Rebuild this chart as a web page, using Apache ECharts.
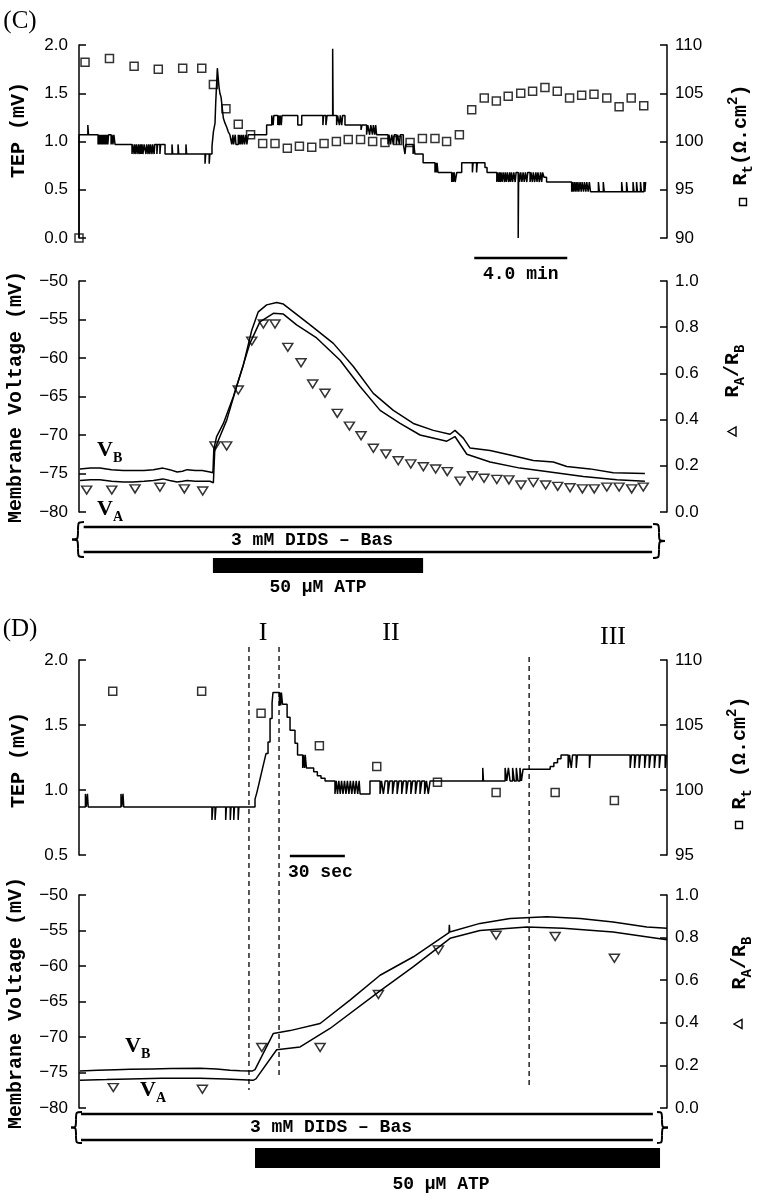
<!DOCTYPE html>
<html><head><meta charset="utf-8">
<script src="https://cdn.jsdelivr.net/npm/echarts/dist/echarts.min.js"></script>
<style>html,body{margin:0;padding:0;background:#fff}#c{width:761px;height:1199px}</style>
</head><body><div id="c"></div>
<script>
// ---------- Panel C (time in minutes) ----------
const cTimeMax = 25.29;
const cTEP = [
[0,0],[0,1.07],[0.38,1.17],[0.41,1.07],
[0.82,0.97],[0.85,1.07],[0.88,0.97],[0.91,1.07],[0.94,0.97],[0.97,1.07],[1.00,0.97],[1.03,1.07],[1.06,0.97],[1.09,1.07],[1.12,0.97],[1.15,1.07],[1.18,0.97],[1.21,1.07],[1.24,0.97],[1.27,1.07],[1.38,0.97],[1.42,1.07],[1.46,0.97],[1.50,1.07],[1.55,0.97],
[2.28,0.87],[2.31,0.97],[2.37,0.87],[2.40,0.97],[2.45,0.87],[2.48,0.97],[2.54,0.87],[2.57,0.97],[2.62,0.87],[2.65,0.97],[2.68,0.87],[2.71,0.97],[2.75,0.87],[2.80,0.97],[2.88,0.87],[2.91,0.97],[2.97,0.87],[3.00,0.97],[3.05,0.87],[3.08,0.97],[3.14,0.87],[3.17,0.97],[3.23,0.87],[3.26,0.97],[3.35,0.87],[3.38,0.97],[3.48,0.87],[3.51,0.97],[3.70,0.87],
[4.00,0.97],[4.03,0.87],[4.26,0.97],[4.29,0.87],[4.60,0.97],[4.63,0.87],
[5.42,0.77],[5.45,0.87],[5.60,0.77],[5.63,0.87],
[5.72,0.95],[5.78,1.10],[5.85,1.19],[5.88,1.40],[5.92,1.60],[5.95,1.76],[5.99,1.65],[6.02,1.57],[6.06,1.50],[6.11,1.46],[6.16,1.35],[6.21,1.24],[6.28,1.19],[6.35,1.15],[6.42,1.10],[6.49,1.07],[6.57,0.97],
[6.62,1.07],[6.65,0.97],[6.72,1.07],[6.75,0.97],[6.85,1.07],[6.88,0.97],[6.92,1.07],[6.95,0.97],[7.00,1.07],[7.03,0.97],[7.08,1.07],[7.12,0.97],[7.18,1.07],[7.22,0.97],[7.28,1.07],
[8.07,1.17],[8.29,1.27],[8.35,1.17],[8.38,1.27],[8.55,1.17],[8.58,1.27],[8.62,1.17],[8.65,1.27],[8.70,1.17],[8.73,1.27],
[9.41,1.17],[9.58,1.27],[10.49,1.17],[10.52,1.27],[10.62,1.17],[10.67,1.27],[10.91,1.96],[10.93,1.27],
[11.08,1.17],[11.12,1.27],[11.20,1.17],[11.24,1.27],[11.30,1.17],[11.34,1.27],[11.44,1.17],
[12.13,1.12],[12.17,1.17],[12.37,1.07],[12.42,1.17],[12.50,1.07],[12.55,1.17],[12.62,1.07],[12.66,1.17],[12.72,1.07],[12.76,1.17],[12.80,1.07],
[13.29,0.97],[13.33,1.07],[13.40,0.97],[13.45,1.07],[13.52,0.97],[13.56,1.07],[13.65,0.97],[13.70,1.07],[13.78,0.97],[13.82,1.07],[13.95,0.97],
[14.02,0.87],[14.06,0.97],[14.37,0.87],[14.40,0.97],[14.45,0.87],[14.80,0.78],
[15.31,0.68],[15.34,0.78],[15.37,0.68],[15.40,0.78],[15.44,0.68],
[16.03,0.58],[16.07,0.68],[16.10,0.58],[16.14,0.68],[16.18,0.58],[16.25,0.68],[16.46,0.78],
[16.92,0.68],[16.95,0.78],[17.10,0.68],[17.13,0.78],[17.46,0.73],[17.55,0.68],
[17.97,0.58],[18.00,0.68],[18.05,0.58],[18.08,0.68],[18.12,0.58],[18.15,0.68],[18.20,0.58],[18.24,0.68],[18.30,0.58],[18.33,0.68],[18.38,0.58],[18.42,0.68],[18.48,0.58],[18.52,0.68],[18.56,0.58],[18.60,0.68],[18.65,0.58],[18.70,0.68],[18.76,0.58],[18.80,0.68],[18.89,0.00],[18.91,0.68],[18.95,0.58],[19.00,0.68],[19.05,0.58],[19.10,0.68],[19.15,0.58],[19.20,0.68],[19.26,0.58],[19.30,0.68],[19.40,0.58],[19.44,0.68],[19.50,0.58],[19.54,0.68],[19.60,0.58],[19.65,0.68],[19.70,0.58],[19.74,0.68],[19.80,0.58],[19.85,0.68],[19.90,0.58],[19.94,0.68],[20.00,0.63],[20.11,0.58],
[21.19,0.48],[21.22,0.58],[21.26,0.48],[21.30,0.58],[21.34,0.48],[21.38,0.58],[21.42,0.48],[21.46,0.58],[21.50,0.48],[21.55,0.58],[21.60,0.48],[21.64,0.58],[21.70,0.48],[21.74,0.58],[21.80,0.48],[21.84,0.58],[21.90,0.48],[21.95,0.58],[22.00,0.48],
[22.34,0.58],[22.38,0.48],[22.55,0.58],[22.59,0.48],[23.34,0.58],[23.38,0.48],[23.55,0.58],[23.59,0.48],[23.83,0.58],[23.87,0.48],[23.98,0.58],[24.02,0.48],[24.15,0.58],[24.19,0.48],[24.30,0.58],[24.34,0.48],[24.37,0.58],[24.39,0.58]
];
const cRt = [[0,90],[0.26,108.2],[1.31,108.6],[2.37,107.8],[3.41,107.5],[4.46,107.6],[5.28,107.6],[5.78,105.9],[6.32,103.4],[6.85,101.8],[7.38,100.7],[7.90,99.8],[8.43,99.8],[8.96,99.3],[9.48,99.5],[10.01,99.4],[10.54,99.8],[11.07,100.0],[11.58,100.2],[12.11,100.2],[12.63,100.0],[13.16,99.9],[13.70,100.1],[14.24,99.9],[14.77,100.3],[15.31,100.3],[15.81,100.0],[16.36,100.7],[16.89,103.3],[17.43,104.5],[17.95,104.2],[18.46,104.7],[19.00,105.0],[19.51,105.2],[20.04,105.6],[20.57,105.2],[21.10,104.5],[21.62,104.8],[22.15,104.9],[22.70,104.5],[23.23,103.6],[23.75,104.5],[24.29,103.7]];
const cVB = [[0.04,-74.4],[0.5,-74.3],[0.9,-74.3],[1.4,-74.5],[1.9,-74.6],[2.32,-74.6],[2.8,-74.6],[3.2,-74.5],[3.61,-74.3],[3.9,-74.5],[4.22,-74.8],[4.45,-74.7],[4.65,-74.5],[5.0,-74.6],[5.3,-74.6],[5.63,-74.8],[5.76,-74.9],[5.80,-71.8],[5.92,-70.2],[6.21,-68.5],[6.64,-65.0],[7.07,-60.9],[7.43,-56.4],[7.71,-54.0],[8.07,-53.1],[8.50,-52.8],[8.79,-53.0],[9.22,-54.0],[9.94,-55.7],[10.94,-58.1],[11.80,-61.1],[12.66,-64.6],[13.52,-66.8],[14.38,-68.5],[15.24,-69.4],[15.96,-69.9],[16.17,-69.4],[16.53,-70.4],[16.82,-71.7],[17.68,-72.0],[18.54,-72.6],[19.54,-73.3],[20.40,-73.5],[20.98,-74.1],[21.98,-74.4],[22.98,-74.9],[24.34,-75.0]];
const cVA = [[0.04,-75.9],[0.5,-75.8],[0.9,-75.8],[1.4,-76.0],[1.9,-76.1],[2.32,-76.1],[2.8,-76.0],[3.2,-75.9],[3.61,-75.7],[3.9,-75.9],[4.22,-76.1],[4.45,-76.0],[4.65,-75.9],[5.0,-76.0],[5.3,-76.0],[5.63,-76.0],[5.78,-76.2],[5.84,-71.9],[5.95,-71.0],[6.35,-68.1],[6.78,-63.7],[7.35,-58.1],[7.78,-55.3],[8.36,-54.2],[8.79,-54.3],[9.36,-55.7],[10.22,-57.4],[11.23,-60.3],[12.09,-63.7],[12.95,-66.8],[13.81,-68.5],[14.67,-70.0],[15.82,-70.8],[16.17,-70.2],[16.68,-72.5],[17.68,-73.5],[18.97,-74.3],[20.26,-74.8],[21.69,-75.4],[23.13,-75.8],[24.34,-76.0]];
const cRatio = [[0.33,0.095],[1.41,0.095],[2.41,0.10],[3.48,0.107],[4.53,0.10],[5.32,0.091],[5.85,0.286],[6.35,0.286],[6.85,0.528],[7.43,0.74],[7.93,0.814],[8.43,0.814],[8.98,0.713],[9.55,0.646],[10.05,0.554],[10.58,0.514],[11.11,0.427],[11.63,0.372],[12.13,0.33],[12.66,0.276],[13.2,0.251],[13.73,0.222],[14.27,0.208],[14.81,0.196],[15.34,0.186],[15.84,0.175],[16.39,0.134],[16.92,0.157],[17.42,0.146],[17.97,0.141],[18.49,0.139],[19.01,0.117],[19.54,0.128],[20.07,0.117],[20.59,0.111],[21.12,0.105],[21.65,0.10],[22.16,0.10],[22.7,0.108],[23.23,0.108],[23.77,0.10],[24.27,0.108]];
const cDIDS = [0.2, 24.65];
const cATP = [5.76, 14.8];
const cScaleBar = [17, 21];

// ---------- Panel D (time in seconds) ----------
const dTimeMax = 320.7;
const dTEP = [
[0,0.87],[3.5,0.97],[3.9,0.87],[4.6,0.97],[5.0,0.87],[22.9,0.97],[23.3,0.87],[24.0,0.97],[24.4,0.87],
[72.5,0.77],[73.0,0.87],[74.2,0.77],[74.7,0.87],[80.0,0.77],[80.4,0.87],[82.5,0.77],[82.9,0.87],[84.4,0.77],[84.8,0.87],[86.8,0.77],[87.2,0.87],
[94.9,0.87],[96,0.93],[97,0.98],[98,1.04],[99,1.10],[100,1.16],[101,1.22],[102,1.28],[103.1,1.37],[104.2,1.55],[105.3,1.67],[105.8,1.75],
[109.3,1.65],[109.6,1.75],[110.0,1.65],[110.4,1.75],[111.0,1.66],[113.5,1.56],[115.1,1.46],[117.8,1.36],[119.2,1.27],
[122,1.17],[122.4,1.27],[123,1.17],[123.4,1.27],[124,1.17],[128,1.14],[130,1.11],[132,1.09],[134.2,1.07],
[139.6,0.97],[140.3,1.07],[141,0.97],[141.7,1.07],[142.5,0.97],[143.2,1.07],[144,0.97],[144.8,1.07],[145.6,0.97],[146.4,1.07],[147.2,0.97],[148,1.07],[148.8,0.97],[149.6,1.07],[150.4,0.97],[151.2,1.07],[152,0.97],[152.8,1.07],[153.3,0.97],[158.7,1.07],
[164.2,0.97],[165,1.07],[166,0.97],[167,1.07],[168.5,0.97],[169.5,1.07],[171,0.97],[172,1.07],[173.5,0.97],[174.5,1.07],[176,0.97],[177,1.07],[178.5,0.97],[179.5,1.07],[181,0.97],[182,1.07],[183.5,0.97],[184.5,1.07],[186,0.97],[187,1.07],[188.5,0.97],[189.5,1.07],[190.5,0.97],[191.5,1.07],
[220.2,1.17],[220.6,1.07],
[232.4,1.17],[233.3,1.07],[234.2,1.17],[235.1,1.07],[236.5,1.17],[237.4,1.07],[238.5,1.17],[239.4,1.07],[240.5,1.17],[241.3,1.07],[242.2,1.16],
[255.3,1.16],[257,1.18],[259,1.21],[261,1.24],[262.9,1.27],
[266.8,1.17],[267.5,1.27],[268.5,1.17],[269.2,1.27],[271.2,1.17],[271.8,1.27],[278.4,1.17],[278.9,1.27],
[300.6,1.17],[301.3,1.27],[303,1.17],[303.7,1.27],[305.5,1.17],[306.2,1.27],[308.5,1.17],[309.2,1.27],[311,1.17],[311.8,1.27],[313.8,1.17],[314.5,1.27],[316.5,1.17],[317.2,1.27],[319.7,1.17],[320.5,1.27],[320.7,1.27]
];
const dRt = [[18.4,107.6],[66.9,107.6],[99.3,105.9],[131.1,103.4],[162.4,101.8],[195.5,100.6],[227.5,99.8],[259.7,99.8],[292.0,99.2]];
const dVB = [[0.5,-74.8],[10,-74.7],[20,-74.6],[27.8,-74.55],[40,-74.5],[50,-74.45],[66,-74.4],[75,-74.5],[82.4,-74.7],[88,-74.75],[94.4,-74.8],[96,-74.6],[106,-69.5],[115.1,-69.1],[131.5,-68.1],[147.8,-64.8],[164.2,-61.3],[182.4,-58.7],[201.8,-55.3],[202.0,-54.2],[202.2,-55.2],[218.7,-54.0],[235.1,-53.3],[255.1,-53.05],[273.3,-53.3],[291.3,-53.8],[309.7,-54.5],[320.7,-54.7]];
const dVA = [[0.5,-76.1],[15,-76.0],[27.8,-75.9],[45,-75.8],[66,-75.8],[80,-75.9],[94.9,-76.1],[96.5,-75.9],[107.8,-71.8],[120.6,-71.4],[136.9,-68.8],[164.2,-63.5],[182.4,-60.1],[202.4,-56.1],[218.7,-55.0],[244.2,-54.5],[264.2,-54.7],[291.3,-55.2],[320.7,-56.3]];
const dRatio = [[18.7,0.096],[67.3,0.088],[99.7,0.284],[131.5,0.284],[163.3,0.533],[196.0,0.742],[227.5,0.811],[259.7,0.805],[292.0,0.703]];
const dDIDS = [1.1, 313];
const dATP = [96, 316.9];
const dScaleBar = [115, 145];
const dPhaseLines = [92.7, 109.1, 245.5];
const dPhaseLabels = ['I', 'II', 'III'];

// ---------- chart ----------
const MONO = '"Liberation Mono","DejaVu Sans Mono",monospace';
const SERIF = '"Liberation Serif","DejaVu Serif",serif';
const chart = echarts.init(document.getElementById('c'), null, {renderer: 'canvas'});

function yAx(grid, pos, min, max, interval, fmt) {
  return {type: 'value', gridIndex: grid, position: pos, min: min, max: max, interval: interval,
    axisLine: {show: true, onZero: false, lineStyle: {color: '#000', width: 1.5}},
    axisTick: {show: true, inside: true, length: 7, lineStyle: {color: '#000', width: 1.5}},
    splitLine: {show: false},
    axisLabel: {color: '#000', fontFamily: '"Liberation Sans",Arial,sans-serif', fontSize: 17,
      margin: pos === 'left' ? 11 : 8, formatter: fmt}};
}
const f1 = v => v.toFixed(1);
const fInt = v => String(Math.round(v));
const fNeg = v => String(Math.round(v)).replace('-', '\u2212');

const lineS = (xi, yi, data, extra) => Object.assign({type: 'line', xAxisIndex: xi, yAxisIndex: yi, data: data,
  showSymbol: false, symbol: 'none', lineStyle: {color: '#000', width: 1.5}, animation: false, z: 3}, extra || {});
const sqS = (xi, yi, data) => ({type: 'scatter', xAxisIndex: xi, yAxisIndex: yi, data: data, symbol: 'rect', symbolSize: 8,
  itemStyle: {color: 'rgba(0,0,0,0)', borderColor: '#000', borderWidth: 1.5}, animation: false, z: 4});
const triS = (xi, yi, data) => ({type: 'scatter', xAxisIndex: xi, yAxisIndex: yi, data: data, symbol: 'triangle', symbolRotate: 180,
  symbolSize: [10, 8], itemStyle: {color: 'rgba(0,0,0,0)', borderColor: '#000', borderWidth: 1.5}, animation: false, z: 4});

chart.setOption({
  backgroundColor: '#fff',
  animation: false,
  grid: [
    {left: 79, width: 588, top: 45, height: 193, outerBoundsMode: 'none'},
    {left: 79, width: 588, top: 281, height: 231, outerBoundsMode: 'none'},
    {left: 79, width: 588, top: 660, height: 195, outerBoundsMode: 'none'},
    {left: 79, width: 588, top: 895, height: 213, outerBoundsMode: 'none'}
  ],
  xAxis: [
    {type: 'value', gridIndex: 0, min: 0, max: cTimeMax, show: false},
    {type: 'value', gridIndex: 1, min: 0, max: cTimeMax, show: false},
    {type: 'value', gridIndex: 2, min: 0, max: dTimeMax, show: false},
    {type: 'value', gridIndex: 3, min: 0, max: dTimeMax, show: false}
  ],
  yAxis: [
    yAx(0, 'left', 0, 2, 0.5, f1),
    yAx(0, 'right', 90, 110, 5, fInt),
    yAx(1, 'left', -80, -50, 5, fNeg),
    yAx(1, 'right', 0, 1, 0.2, f1),
    yAx(2, 'left', 0.5, 2, 0.5, f1),
    yAx(2, 'right', 95, 110, 5, fInt),
    yAx(3, 'left', -80, -50, 5, fNeg),
    yAx(3, 'right', 0, 1, 0.2, f1)
  ],
  series: [
    lineS(0, 0, cTEP, {step: 'end'}),
    sqS(0, 1, cRt),
    lineS(1, 2, cVB),
    lineS(1, 2, cVA),
    triS(1, 3, cRatio),
    lineS(2, 4, dTEP, {step: 'end'}),
    sqS(2, 5, dRt),
    lineS(3, 6, dVB),
    lineS(3, 6, dVA),
    triS(3, 7, dRatio)
  ]
});

// ---------- annotations ----------
const px = (ai, t) => chart.convertToPixel({xAxisIndex: ai}, t);
const G = [];
function T(x, y, text, font, align, rot) {
  G.push({type: 'text', x: x, y: y, rotation: rot || 0, silent: true, z: 10,
    style: {text: text, font: font, fill: '#000', align: align || 'center', verticalAlign: 'middle',
      textAlign: align || 'center', textVerticalAlign: 'middle'}});
}
function R(x, y, text, rich, align, rot) {
  G.push({type: 'text', x: x, y: y, rotation: rot || 0, silent: true, z: 10,
    style: {text: text, rich: rich, fill: '#000', align: align || 'center', verticalAlign: 'middle',
      textAlign: align || 'center', textVerticalAlign: 'middle'}});
}
function L(x1, y1, x2, y2, w, dash) {
  G.push({type: 'line', silent: true, z: 10, shape: {x1: x1, y1: y1, x2: x2, y2: y2},
    style: {stroke: '#000', lineWidth: w, lineDash: dash || null}});
}
function Box(x, y, w, h) {
  G.push({type: 'rect', silent: true, z: 10, shape: {x: x, y: y, width: w, height: h}, style: {fill: '#000'}});
}
function Bz(x1, y1, c1x, c1y, c2x, c2y, x2, y2) {
  G.push({type: 'bezierCurve', silent: true, z: 10,
    shape: {x1: x1, y1: y1, cpx1: c1x, cpy1: c1y, cpx2: c2x, cpy2: c2y, x2: x2, y2: y2},
    style: {stroke: '#000', lineWidth: 2, fill: null}});
}
function brace(tipX, spineX, pointX, y0, y1) {
  const m = (y0 + y1) / 2, q = (y1 - y0) / 4;
  Bz(tipX, y0, spineX, y0, spineX, y0, spineX, y0 + q);
  Bz(spineX, y0 + q, spineX, m, spineX, m, pointX, m);
  Bz(pointX, m, spineX, m, spineX, m, spineX, m + q);
  Bz(spineX, m + q, spineX, y1, spineX, y1, tipX, y1);
}
const richSub = {
  n: {fontSize: 20, fontFamily: MONO, fontWeight: 'bold', fill: '#000'},
  s: {fontSize: 14, fontFamily: MONO, fontWeight: 'bold', fill: '#000', padding: [14, 0, 0, 0]},
  p: {fontSize: 14, fontFamily: MONO, fontWeight: 'bold', fill: '#000', padding: [0, 0, 16, 0]}
};
const richV = {
  n: {fontSize: 22, fontFamily: SERIF, fontWeight: 'bold', fill: '#000'},
  s: {fontSize: 14, fontFamily: SERIF, fontWeight: 'bold', fill: '#000', padding: [16, 0, 0, 0]}
};
const ROT = Math.PI / 2;
const TITLE = 'bold 20px ' + MONO;
const NOTE = 'bold 18px ' + MONO;

// panel labels
T(20, 21, '(C)', '25px ' + SERIF);
T(20, 629, '(D)', '25px ' + SERIF);

// left titles
T(19, 130, 'TEP (mV)', TITLE, 'center', ROT);
T(16, 397, 'Membrane Voltage (mV)', TITLE, 'center', ROT);
T(19, 760, 'TEP (mV)', TITLE, 'center', ROT);
T(16, 1003, 'Membrane Voltage (mV)', TITLE, 'center', ROT);

// right titles + legend symbols
R(741, 135, '{n|R}{s|t}{n|(Ω.cm}{p|2}{n|)}', richSub, 'center', ROT);
G.push({type: 'rect', silent: true, z: 10, shape: {x: 739.5, y: 198.5, width: 7, height: 7}, style: {fill: 'none', stroke: '#000', lineWidth: 1.4}});
R(733, 371, '{n|R}{s|A}{n|/R}{s|B}', richSub, 'center', ROT);
G.push({type: 'polygon', silent: true, z: 10, shape: {points: [[728, 431.5], [736, 427], [736, 436]]}, style: {fill: 'none', stroke: '#000', lineWidth: 1.4}});
R(740, 753, '{n|R}{s|t}{n| (Ω.cm}{p|2}{n|)}', richSub, 'center', ROT);
G.push({type: 'rect', silent: true, z: 10, shape: {x: 735.5, y: 821.5, width: 7, height: 7}, style: {fill: 'none', stroke: '#000', lineWidth: 1.4}});
R(740, 963, '{n|R}{s|A}{n|/R}{s|B}', richSub, 'center', ROT);
G.push({type: 'polygon', silent: true, z: 10, shape: {points: [[734, 1024], [742, 1019.5], [742, 1028.5]]}, style: {fill: 'none', stroke: '#000', lineWidth: 1.4}});

// C: scale bar
{
  const a = px(0, cScaleBar[0]), b = px(0, cScaleBar[1]);
  L(a, 258, b, 258, 2.5);
  T((a + b) / 2, 274, '4.0 min', NOTE);
}
// C: DIDS box, braces, ATP bar
{
  const a = px(1, cDIDS[0]), b = px(1, cDIDS[1]);
  L(a, 527, b, 527, 2.5); L(a, 552, b, 552, 2.5);
  brace(84, 78, 72, 522, 557);
  brace(653, 659, 665, 524, 558);
  T(312, 540, '3 mM DIDS \u2013 Bas', NOTE);
  const s = px(1, cATP[0]), e = px(1, cATP[1]);
  Box(s, 558, e - s, 15);
  T((s + e) / 2, 587, '50 \u03bcM ATP', NOTE);
}
// C: V labels
R(97, 450, '{n|V}{s|B}', richV, 'left');
R(97, 509, '{n|V}{s|A}', richV, 'left');

// D: phase lines + labels
{
  const xs = dPhaseLines.map(t => px(3, t));
  L(xs[0], 647, xs[0], 1090, 1.3, [5, 4]);
  L(xs[1], 647, xs[1], 1078, 1.3, [5, 4]);
  L(xs[2], 657, xs[2], 1088, 1.3, [5, 4]);
  T(263, 633, dPhaseLabels[0], '26px ' + SERIF);
  T(391, 633, dPhaseLabels[1], '26px ' + SERIF);
  T(613, 637, dPhaseLabels[2], '26px ' + SERIF);
}
// D: scale bar
{
  const a = px(2, dScaleBar[0]), b = px(2, dScaleBar[1]);
  L(a, 856, b, 856, 2.5);
  T((a + b) / 2 + 3, 872, '30 sec', NOTE);
}
// D: DIDS box, braces, ATP bar
{
  const a = px(3, dDIDS[0]), b = px(3, dDIDS[1]);
  L(a, 1114, b, 1114, 2.5); L(a, 1140, b, 1140, 2.5);
  brace(82, 76, 71, 1112, 1143);
  brace(657, 662, 668, 1112, 1143);
  T(331, 1127, '3 mM DIDS \u2013 Bas', NOTE);
  const s = px(3, dATP[0]), e = px(3, dATP[1]);
  Box(s, 1148, e - s, 20);
  T(441, 1184, '50 \u03bcM ATP', NOTE);
}
// D: V labels
R(125, 1046, '{n|V}{s|B}', richV, 'left');
R(140, 1090, '{n|V}{s|A}', richV, 'left');

chart.setOption({graphic: {elements: G}});
</script></body></html>
